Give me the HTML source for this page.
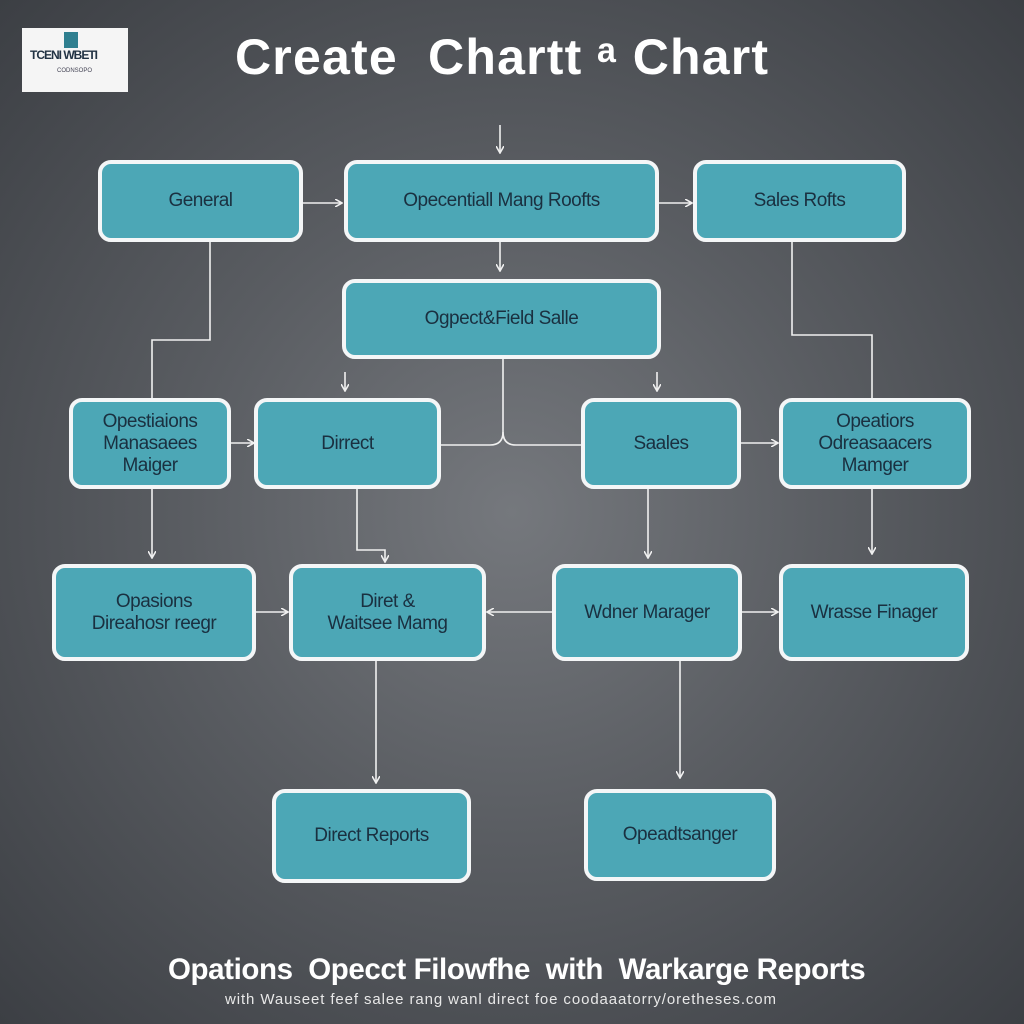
<!DOCTYPE html>
<html><head><meta charset="utf-8"><style>
html,body{margin:0;padding:0}
body{width:1024px;height:1024px;overflow:hidden;position:relative;font-family:"Liberation Sans",sans-serif;
background:radial-gradient(ellipse at 50% 50%,#75787d 0%,#5a5d62 45%,#3c3f44 100%);}
.b{position:absolute;box-sizing:border-box;background:#4ca7b6;border:4px solid #f4f6f7;border-radius:13px;
display:flex;align-items:center;justify-content:center;text-align:center;color:#1a3040;font-size:19px;line-height:22px;letter-spacing:-0.5px}
svg{position:absolute;left:0;top:0}
.t{position:absolute;color:#fff;font-weight:bold;white-space:nowrap}
</style></head><body>
<div style="position:absolute;left:22px;top:28px;width:106px;height:64px;background:#f5f5f5">
<div style="position:absolute;left:42px;top:4px;width:14px;height:16px;background:#2f7f8f"></div>
<div style="position:absolute;left:8px;top:20px;font-size:12px;font-weight:bold;color:#223344;letter-spacing:-1px">TCENI WBETI</div>
<div style="position:absolute;left:35px;top:40px;font-size:6px;color:#445">CODNSOPO</div>
</div>
<div class="t" style="left:235px;top:28px;font-size:50px;letter-spacing:1.2px">Create&nbsp; Chartt ᵃ Chart</div>
<svg width="1024" height="1024" stroke="#f0f0f0" stroke-width="1.6" fill="none">
<defs><marker id="a" markerWidth="8" markerHeight="8" refX="6" refY="4" orient="auto" markerUnits="userSpaceOnUse"><path d="M0,0 L7,4 L0,8" stroke="#f0f0f0" fill="none" stroke-width="1.6"/></marker></defs>
<g marker-end="url(#a)">
<path d="M500,125V152"/><path d="M302,203H341"/><path d="M658,203H691"/><path d="M500,241V270"/>
<path d="M345,372V390"/><path d="M657,372V390"/>
<path d="M230,443H253"/><path d="M740,443H777"/>
<path d="M152,488V557"/><path d="M357,488V550H385V561"/><path d="M648,488V557"/><path d="M872,488V553"/>
<path d="M255,612H287"/><path d="M553,612H488"/><path d="M741,612H777"/>
<path d="M376,660V782"/><path d="M680,660V777"/>
</g>
<path d="M210,240V340H152V398"/><path d="M792,241V335H872V398"/>
<path d="M503,358V432Q503,445 490,445H440"/><path d="M503,432Q503,445 516,445H582"/>
</svg>
<div class="b" style="left:98px;top:160px;width:205px;height:82px">General</div>
<div class="b" style="left:344px;top:160px;width:315px;height:82px">Opecentiall Mang Roofts</div>
<div class="b" style="left:693px;top:160px;width:213px;height:82px">Sales Rofts</div>
<div class="b" style="left:342px;top:279px;width:319px;height:80px">Ogpect&amp;Field Salle</div>
<div class="b" style="left:69px;top:398px;width:162px;height:91px">Opestiaions<br>Manasaees<br>Maiger</div>
<div class="b" style="left:254px;top:398px;width:187px;height:91px">Dirrect</div>
<div class="b" style="left:581px;top:398px;width:160px;height:91px">Saales</div>
<div class="b" style="left:779px;top:398px;width:192px;height:91px">Opeatiors<br>Odreasaacers<br>Mamger</div>
<div class="b" style="left:52px;top:564px;width:204px;height:97px">Opasions<br>Direahosr reegr</div>
<div class="b" style="left:289px;top:564px;width:197px;height:97px">Diret &amp;<br>Waitsee Mamg</div>
<div class="b" style="left:552px;top:564px;width:190px;height:97px">Wdner Marager</div>
<div class="b" style="left:779px;top:564px;width:190px;height:97px">Wrasse Finager</div>
<div class="b" style="left:272px;top:789px;width:199px;height:94px">Direct Reports</div>
<div class="b" style="left:584px;top:789px;width:192px;height:92px">Opeadtsanger</div>
<div class="t" style="left:168px;top:953px;font-size:29.5px;letter-spacing:-0.4px">Opations&nbsp; Opecct Filowfhe&nbsp; with&nbsp; Warkarge Reports</div>
<div class="t" style="left:225px;top:991px;font-size:15px;font-weight:normal;color:#e8e8e8;letter-spacing:0.9px">with Wauseet feef salee rang wanl direct foe coodaaatorry/oretheses.com</div>
</body></html>
